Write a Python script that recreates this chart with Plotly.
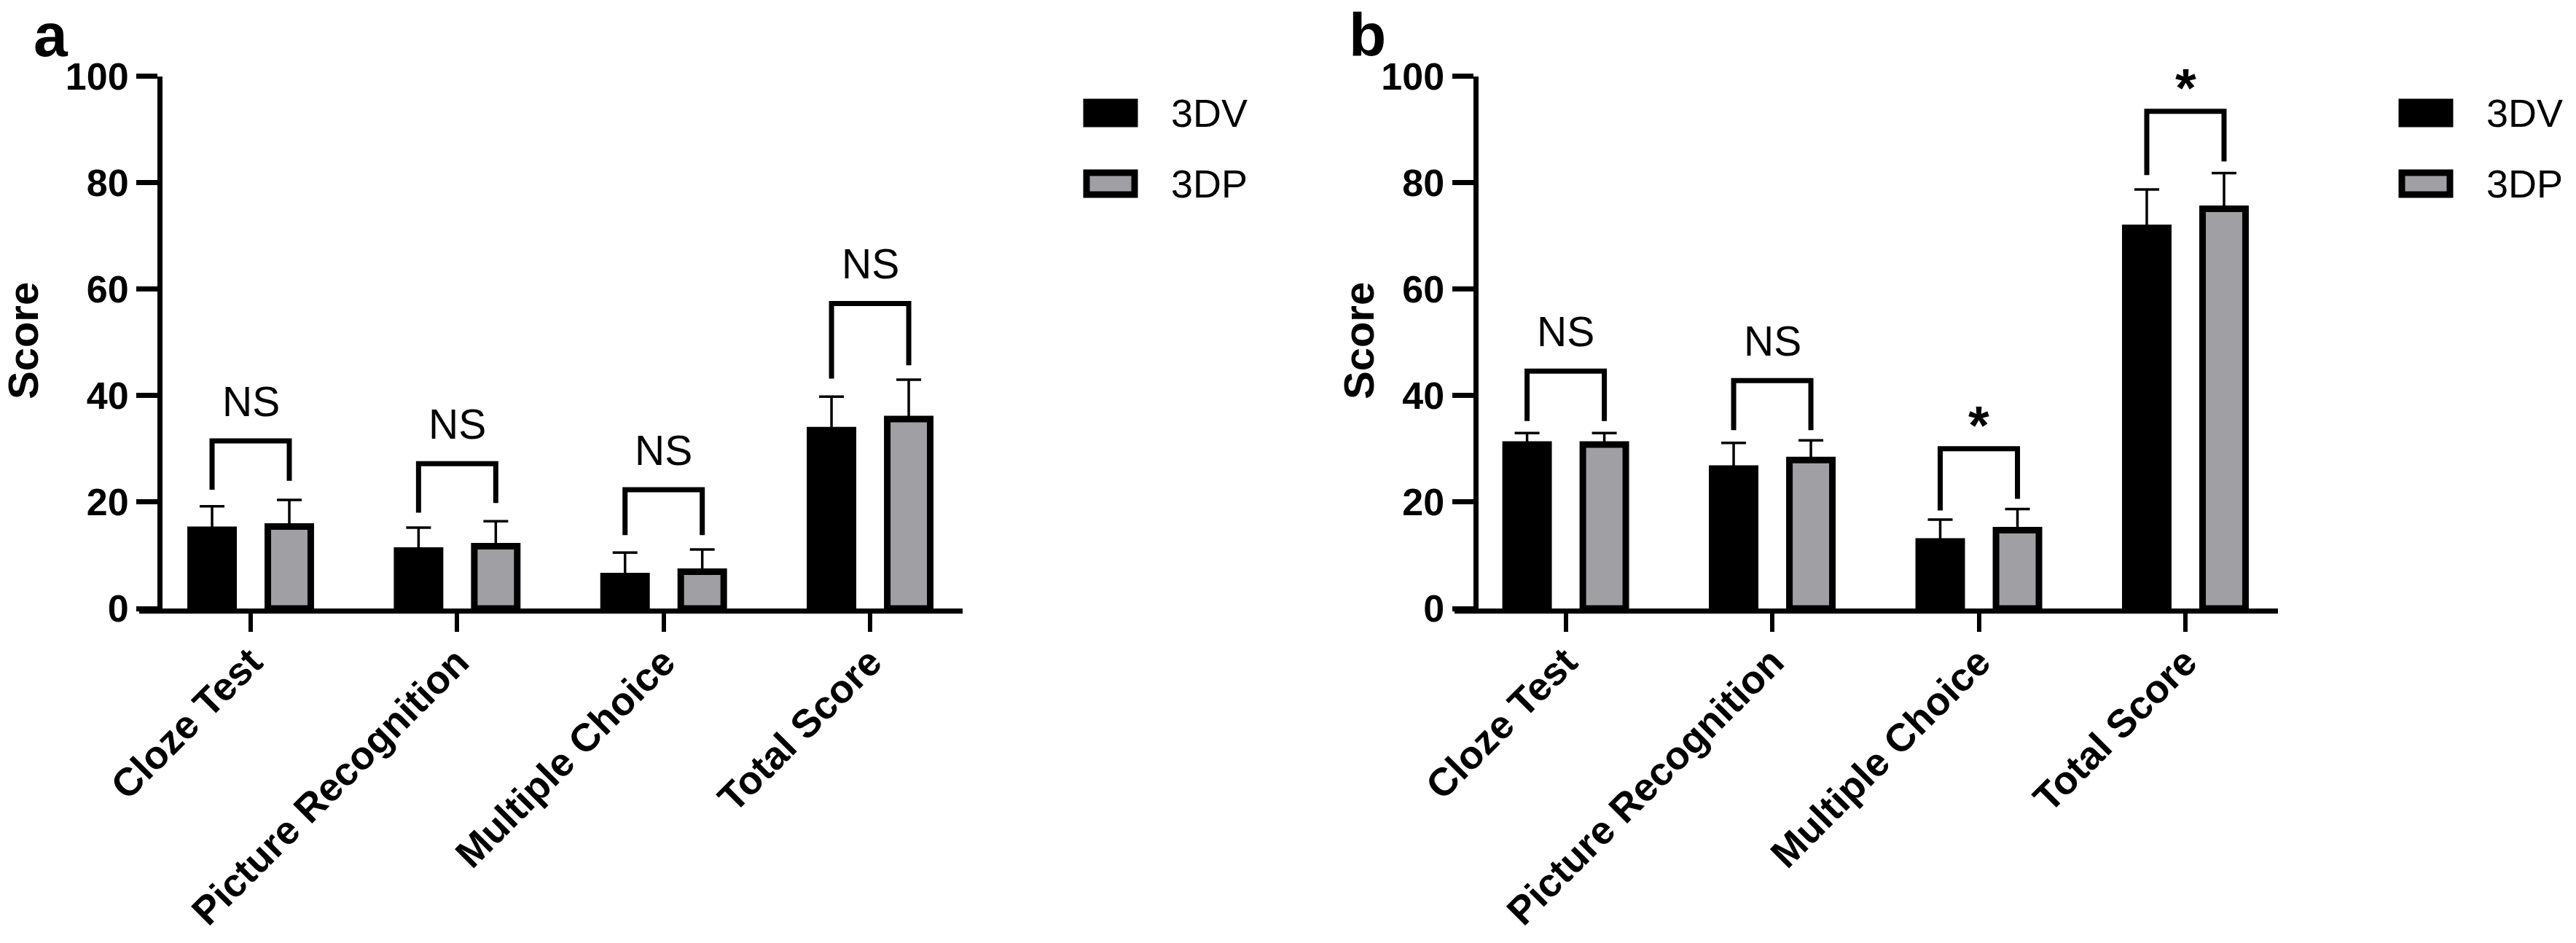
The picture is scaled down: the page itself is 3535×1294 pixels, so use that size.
import plotly.graph_objects as go

# figure size in px (matches the browser window)
W, H = 3535, 1294

# categories shared by both panels
categories = ["Cloze Test", "Picture Recognition", "Multiple Choice", "Total Score"]
xpos = [0, 1, 2, 3]

# panel a - means and upper SD
a_3dv_mean = [14.8, 10.9, 6.1, 33.5]
a_3dv_sd = [4.4, 4.3, 4.4, 6.3]
a_3dp_mean = [15.4, 11.7, 6.9, 35.6]
a_3dp_sd = [5.0, 4.7, 4.2, 7.4]

# panel b - means and upper SD
b_3dv_mean = [30.8, 26.3, 12.6, 71.5]
b_3dv_sd = [2.15, 4.8, 4.1, 7.2]
b_3dp_mean = [30.8, 27.9, 14.7, 75.1]
b_3dp_sd = [2.15, 3.7, 4.0, 6.7]

# significance brackets (top, left leg end, right leg end) and labels
a_sig = ["NS", "NS", "NS", "NS"]
a_bracket_top = [31.5, 27.2, 22.3, 57.3]
a_bracket_left = [22.3, 18.0, 13.8, 43.2]
a_bracket_right = [24.0, 19.8, 13.8, 45.7]

b_sig = ["NS", "NS", "*", "*"]
b_bracket_top = [44.6, 42.8, 30.0, 93.4]
b_bracket_left = [35.2, 33.5, 18.4, 81.4]
b_bracket_right = [35.2, 33.5, 20.6, 84.0]

groups = ["3DV", "3DP"]
GRAY = "#a0a0a4"
FONT = "Liberation Sans, Arial, sans-serif"

BAR_W = 0.208
HALF = 0.187  # distance of bar centre from tick

fig = go.Figure()


def add_panel(xa, ya, m1, s1, m2, s2):
    for mean, sd, color, off in [(m1, s1, "black", -HALF), (m2, s2, GRAY, HALF)]:
        fig.add_trace(go.Bar(
            x=xpos, y=mean, width=BAR_W, offset=off - BAR_W / 2,
            marker=dict(color=color, line=dict(color="black", width=9)),
            error_y=dict(type="data", array=sd, arrayminus=[0] * len(sd),
                         symmetric=False, color="black", thickness=3.5, width=17),
            xaxis=xa, yaxis=ya, showlegend=False,
        ))


add_panel("x", "y", a_3dv_mean, a_3dv_sd, a_3dp_mean, a_3dp_sd)
add_panel("x2", "y2", b_3dv_mean, b_3dv_sd, b_3dp_mean, b_3dp_sd)


def add_brackets(xr, yr, tops, lefts, rights, sigs):
    for i, (t, l, r, s) in enumerate(zip(tops, lefts, rights, sigs)):
        x0, x1 = xpos[i] - HALF, xpos[i] + HALF
        fig.add_shape(type="path", xref=xr, yref=yr,
                      path=f"M {x0},{l} L {x0},{t} L {x1},{t} L {x1},{r}",
                      line=dict(color="black", width=7))
        if s == "*":
            fig.add_annotation(x=xpos[i], y=t, xref=xr, yref=yr, text="<b>*</b>",
                               showarrow=False, yanchor="middle", yshift=32,
                               font=dict(family=FONT, size=74, color="black"))
        else:
            fig.add_annotation(x=xpos[i], y=t, xref=xr, yref=yr, text=s,
                               showarrow=False, yanchor="middle", yshift=54,
                               font=dict(family=FONT, size=57, color="black"))


add_brackets("x", "y", a_bracket_top, a_bracket_left, a_bracket_right, a_sig)
add_brackets("x2", "y2", b_bracket_top, b_bracket_left, b_bracket_right, b_sig)

# axes
ydom = [1 - 835 / H, 1 - 104.5 / H]
xrange_ = [-0.54, 3.448]
xcommon = dict(range=xrange_, tickvals=xpos, ticktext=[f"<b>{c}</b>" for c in categories],
               tickangle=-45, ticks="outside", ticklen=25, tickwidth=6, tickcolor="black",
               ticklabelstandoff=-12,
               showline=True, linewidth=7, linecolor="black", showgrid=False, zeroline=False,
               automargin=False,
               tickfont=dict(family=FONT, size=54, color="black"), fixedrange=True)
ycommon = dict(range=[0, 100], domain=ydom, tickvals=[0, 20, 40, 60, 80, 100],
               ticktext=[f"<b>{v}</b>" for v in [0, 20, 40, 60, 80, 100]],
               ticks="outside", ticklen=29, tickwidth=7, tickcolor="black",
               showline=True, linewidth=7, linecolor="black", showgrid=False, zeroline=False,
               automargin=False, fixedrange=True,
               tickfont=dict(family=FONT, size=52, color="black"), anchor="free")

fig.update_layout(
    template="none",
    width=W, height=H, margin=dict(l=0, r=0, t=0, b=0, pad=0),
    paper_bgcolor="white", plot_bgcolor="white",
    barmode="overlay",
    xaxis=dict(domain=[191 / W, 1321 / W], anchor="y", **xcommon),
    yaxis=dict(position=219 / W, **ycommon),
    xaxis2=dict(domain=[1995.5 / W, 3126 / W], anchor="y2", **xcommon),
    yaxis2=dict(position=2024.5 / W, **ycommon),
)

# y titles and panel letters
for xc, letter, lx in [(31, "a", 45), (1864, "b", 1850)]:
    fig.add_annotation(x=xc / W, y=1 - 468 / H, xref="paper", yref="paper",
                       text="<b>Score</b>", textangle=-90, showarrow=False,
                       xanchor="center", yanchor="middle",
                       font=dict(family=FONT, size=58, color="black"))
    fig.add_annotation(x=lx / W, y=1, xref="paper", yref="paper",
                       text=f"<b>{letter}</b>", showarrow=False, borderpad=0,
                       xanchor="left", yanchor="top",
                       font=dict(family=FONT, size=84, color="black"))

# legends drawn per panel
for x0 in [1487, 3292]:
    for k, (name, fill, yc) in enumerate([(groups[0], "black", 155), (groups[1], GRAY, 252)]):
        fig.add_shape(type="rect", xref="paper", yref="paper",
                      x0=(x0 + 4) / W, x1=(x0 + 70) / W,
                      y0=1 - (yc + 15) / H, y1=1 - (yc - 15) / H,
                      fillcolor=fill, line=dict(color="black", width=9))
        fig.add_annotation(x=(x0 + 118) / W, y=1 - yc / H, xref="paper", yref="paper",
                           text=name, showarrow=False, xanchor="left", yanchor="middle",
                           font=dict(family=FONT, size=54, color="black"))

fig.write_html("out.html", config={"displayModeBar": False},
               post_script="document.body.style.margin='0';")
